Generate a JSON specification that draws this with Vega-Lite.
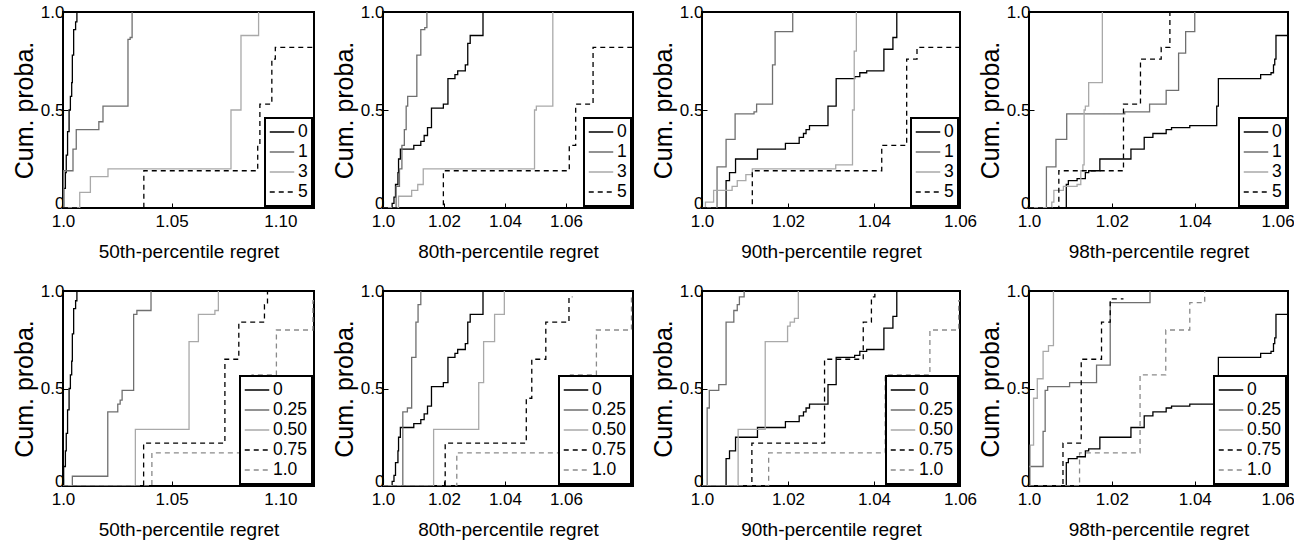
{
  "$schema": "https://vega.github.io/schema/vega-lite/v6.json",
  "background": "white",
  "padding": {"left": 11, "top": 2, "right": 2, "bottom": 2},
  "config": {
    "view": {"stroke": "#000", "strokeWidth": 2},
    "axis": {
      "grid": false, "domain": false, "ticks": true, "tickSize": -5, "tickColor": "#000", "tickWidth": 1,
      "labelFont": "Liberation Sans, Arial", "labelFontSize": 17, "labelColor": "#000",
      "labelFlush": false, "labelOverlap": false,
      "titleFontWeight": "normal", "titleColor": "#000", "titleFont": "Liberation Sans, Arial"
    },
    "axisX": {"labelPadding": 10, "titleFontSize": 19, "titlePadding": 13},
    "axisY": {"labelPadding": 4, "titleFontSize": 25, "titlePadding": 3, "labelBaseline": {"condition": {"test": "datum.value == 0", "value": "alphabetic"}, "value": "middle"}},
    "legend": {
      "orient": "bottom-right", "offset": 2, "fillColor": "white", "strokeColor": "#000", "strokeWidth": 2,
      "padding": 4, "title": null, "symbolType": "stroke", "symbolSize": 600, "symbolStrokeWidth": 1.5,
      "labelFont": "Liberation Sans, Arial", "labelFontSize": 17.5, "labelColor": "#000",
      "rowPadding": 0, "labelOffset": 3, "clipHeight": 20
    }
  },
  "datasets": {
    "cdf": [
      {"c":1,"r":"a","s":"0","x":1.0,"y":0},{"c":1,"r":"a","s":"0","x":1.0003,"y":0.1},{"c":1,"r":"a","s":"0","x":1.0011,"y":0.18},{"c":1,"r":"a","s":"0","x":1.0015,"y":0.27},{"c":1,"r":"a","s":"0","x":1.0021,"y":0.39},{"c":1,"r":"a","s":"0","x":1.0028,"y":0.5},{"c":1,"r":"a","s":"0","x":1.0034,"y":0.57},{"c":1,"r":"a","s":"0","x":1.004,"y":0.64},{"c":1,"r":"a","s":"0","x":1.0043,"y":0.78},{"c":1,"r":"a","s":"0","x":1.0049,"y":0.91},{"c":1,"r":"a","s":"0","x":1.0058,"y":0.95},{"c":1,"r":"a","s":"0","x":1.0064,"y":1},
      {"c":1,"r":"t","s":"1","x":1.0,"y":0},{"c":1,"r":"t","s":"1","x":1.0003,"y":0.19},{"c":1,"r":"t","s":"1","x":1.0046,"y":0.3},{"c":1,"r":"t","s":"1","x":1.0061,"y":0.4},{"c":1,"r":"t","s":"1","x":1.0165,"y":0.44},{"c":1,"r":"t","s":"1","x":1.0184,"y":0.52},{"c":1,"r":"t","s":"1","x":1.0299,"y":0.86},{"c":1,"r":"t","s":"1","x":1.0309,"y":0.87},{"c":1,"r":"t","s":"1","x":1.0318,"y":1},
      {"c":1,"r":"t","s":"3","x":1.0,"y":0},{"c":1,"r":"t","s":"3","x":1.0077,"y":0.08},{"c":1,"r":"t","s":"3","x":1.0126,"y":0.16},{"c":1,"r":"t","s":"3","x":1.0207,"y":0.2},{"c":1,"r":"t","s":"3","x":1.0773,"y":0.5},{"c":1,"r":"t","s":"3","x":1.0819,"y":0.88},{"c":1,"r":"t","s":"3","x":1.09,"y":1},
      {"c":1,"r":"t","s":"5","x":1.0,"y":0},{"c":1,"r":"t","s":"5","x":1.0372,"y":0.19},{"c":1,"r":"t","s":"5","x":1.0896,"y":0.32},{"c":1,"r":"t","s":"5","x":1.0906,"y":0.53},{"c":1,"r":"t","s":"5","x":1.0961,"y":0.76},{"c":1,"r":"t","s":"5","x":1.0977,"y":0.82},{"c":1,"r":"t","s":"5","x":1.1155,"y":0.82},
      {"c":1,"r":"b","s":"0.25","x":1.0,"y":0},{"c":1,"r":"b","s":"0.25","x":1.0043,"y":0.05},{"c":1,"r":"b","s":"0.25","x":1.0206,"y":0.38},{"c":1,"r":"b","s":"0.25","x":1.0252,"y":0.42},{"c":1,"r":"b","s":"0.25","x":1.0263,"y":0.44},{"c":1,"r":"b","s":"0.25","x":1.0272,"y":0.49},{"c":1,"r":"b","s":"0.25","x":1.0325,"y":0.88},{"c":1,"r":"b","s":"0.25","x":1.034,"y":0.9},{"c":1,"r":"b","s":"0.25","x":1.0405,"y":1},
      {"c":1,"r":"b","s":"0.50","x":1.0,"y":0},{"c":1,"r":"b","s":"0.50","x":1.0333,"y":0.29},{"c":1,"r":"b","s":"0.50","x":1.058,"y":0.74},{"c":1,"r":"b","s":"0.50","x":1.0623,"y":0.88},{"c":1,"r":"b","s":"0.50","x":1.0699,"y":0.9},{"c":1,"r":"b","s":"0.50","x":1.0715,"y":1},
      {"c":1,"r":"b","s":"0.75","x":1.0,"y":0},{"c":1,"r":"b","s":"0.75","x":1.0371,"y":0.22},{"c":1,"r":"b","s":"0.75","x":1.0745,"y":0.65},{"c":1,"r":"b","s":"0.75","x":1.0809,"y":0.84},{"c":1,"r":"b","s":"0.75","x":1.0927,"y":0.93},{"c":1,"r":"b","s":"0.75","x":1.0941,"y":1},
      {"c":1,"r":"b","s":"1.0","x":1.0,"y":0},{"c":1,"r":"b","s":"1.0","x":1.0409,"y":0.17},{"c":1,"r":"b","s":"1.0","x":1.087,"y":0.57},{"c":1,"r":"b","s":"1.0","x":1.0982,"y":0.8},{"c":1,"r":"b","s":"1.0","x":1.115,"y":0.95},{"c":1,"r":"b","s":"1.0","x":1.1155,"y":0.95},

      {"c":2,"r":"a","s":"0","x":1.0,"y":0},{"c":2,"r":"a","s":"0","x":1.003,"y":0.024},{"c":2,"r":"a","s":"0","x":1.0036,"y":0.055},{"c":2,"r":"a","s":"0","x":1.0041,"y":0.12},{"c":2,"r":"a","s":"0","x":1.0049,"y":0.18},{"c":2,"r":"a","s":"0","x":1.0051,"y":0.25},{"c":2,"r":"a","s":"0","x":1.0057,"y":0.3},{"c":2,"r":"a","s":"0","x":1.0101,"y":0.32},{"c":2,"r":"a","s":"0","x":1.0124,"y":0.34},{"c":2,"r":"a","s":"0","x":1.0135,"y":0.37},{"c":2,"r":"a","s":"0","x":1.0146,"y":0.41},{"c":2,"r":"a","s":"0","x":1.0159,"y":0.51},{"c":2,"r":"a","s":"0","x":1.0198,"y":0.53},{"c":2,"r":"a","s":"0","x":1.0213,"y":0.66},{"c":2,"r":"a","s":"0","x":1.0236,"y":0.68},{"c":2,"r":"a","s":"0","x":1.0245,"y":0.7},{"c":2,"r":"a","s":"0","x":1.027,"y":0.73},{"c":2,"r":"a","s":"0","x":1.0278,"y":0.84},{"c":2,"r":"a","s":"0","x":1.0286,"y":0.88},{"c":2,"r":"a","s":"0","x":1.0328,"y":1},
      {"c":2,"r":"t","s":"1","x":1.0,"y":0},{"c":2,"r":"t","s":"1","x":1.0043,"y":0.11},{"c":2,"r":"t","s":"1","x":1.0054,"y":0.2},{"c":2,"r":"t","s":"1","x":1.0062,"y":0.32},{"c":2,"r":"t","s":"1","x":1.007,"y":0.4},{"c":2,"r":"t","s":"1","x":1.0076,"y":0.52},{"c":2,"r":"t","s":"1","x":1.0081,"y":0.57},{"c":2,"r":"t","s":"1","x":1.0111,"y":0.78},{"c":2,"r":"t","s":"1","x":1.0124,"y":0.91},{"c":2,"r":"t","s":"1","x":1.0137,"y":0.92},{"c":2,"r":"t","s":"1","x":1.0144,"y":1},
      {"c":2,"r":"t","s":"3","x":1.0,"y":0},{"c":2,"r":"t","s":"3","x":1.0051,"y":0.06},{"c":2,"r":"t","s":"3","x":1.0094,"y":0.09},{"c":2,"r":"t","s":"3","x":1.0114,"y":0.12},{"c":2,"r":"t","s":"3","x":1.0132,"y":0.2},{"c":2,"r":"t","s":"3","x":1.0497,"y":0.5},{"c":2,"r":"t","s":"3","x":1.0503,"y":0.52},{"c":2,"r":"t","s":"3","x":1.0557,"y":1},
      {"c":2,"r":"t","s":"5","x":1.0,"y":0},{"c":2,"r":"t","s":"5","x":1.0198,"y":0.19},{"c":2,"r":"t","s":"5","x":1.0611,"y":0.32},{"c":2,"r":"t","s":"5","x":1.0632,"y":0.53},{"c":2,"r":"t","s":"5","x":1.0689,"y":0.82},{"c":2,"r":"t","s":"5","x":1.082,"y":0.82},
      {"c":2,"r":"b","s":"0.25","x":1.0,"y":0},{"c":2,"r":"b","s":"0.25","x":1.0065,"y":0.38},{"c":2,"r":"b","s":"0.25","x":1.008,"y":0.4},{"c":2,"r":"b","s":"0.25","x":1.0094,"y":0.66},{"c":2,"r":"b","s":"0.25","x":1.0108,"y":0.84},{"c":2,"r":"b","s":"0.25","x":1.0115,"y":0.93},{"c":2,"r":"b","s":"0.25","x":1.0124,"y":1},
      {"c":2,"r":"b","s":"0.50","x":1.0,"y":0},{"c":2,"r":"b","s":"0.50","x":1.0166,"y":0.29},{"c":2,"r":"b","s":"0.50","x":1.0314,"y":0.53},{"c":2,"r":"b","s":"0.50","x":1.033,"y":0.74},{"c":2,"r":"b","s":"0.50","x":1.0366,"y":0.88},{"c":2,"r":"b","s":"0.50","x":1.0398,"y":1},
      {"c":2,"r":"b","s":"0.75","x":1.0,"y":0},{"c":2,"r":"b","s":"0.75","x":1.0204,"y":0.22},{"c":2,"r":"b","s":"0.75","x":1.047,"y":0.45},{"c":2,"r":"b","s":"0.75","x":1.0488,"y":0.65},{"c":2,"r":"b","s":"0.75","x":1.0534,"y":0.84},{"c":2,"r":"b","s":"0.75","x":1.061,"y":0.97},{"c":2,"r":"b","s":"0.75","x":1.0621,"y":0.97},
      {"c":2,"r":"b","s":"1.0","x":1.0,"y":0},{"c":2,"r":"b","s":"1.0","x":1.0242,"y":0.17},{"c":2,"r":"b","s":"1.0","x":1.0615,"y":0.57},{"c":2,"r":"b","s":"1.0","x":1.07,"y":0.8},{"c":2,"r":"b","s":"1.0","x":1.0815,"y":0.97},{"c":2,"r":"b","s":"1.0","x":1.082,"y":0.97},

      {"c":3,"r":"a","s":"0","x":1.0,"y":0},{"c":3,"r":"a","s":"0","x":1.0056,"y":0.14},{"c":3,"r":"a","s":"0","x":1.0064,"y":0.18},{"c":3,"r":"a","s":"0","x":1.0078,"y":0.25},{"c":3,"r":"a","s":"0","x":1.0129,"y":0.3},{"c":3,"r":"a","s":"0","x":1.0194,"y":0.33},{"c":3,"r":"a","s":"0","x":1.0226,"y":0.36},{"c":3,"r":"a","s":"0","x":1.0236,"y":0.38},{"c":3,"r":"a","s":"0","x":1.0242,"y":0.4},{"c":3,"r":"a","s":"0","x":1.025,"y":0.42},{"c":3,"r":"a","s":"0","x":1.0293,"y":0.52},{"c":3,"r":"a","s":"0","x":1.0312,"y":0.66},{"c":3,"r":"a","s":"0","x":1.0355,"y":0.67},{"c":3,"r":"a","s":"0","x":1.0367,"y":0.69},{"c":3,"r":"a","s":"0","x":1.0383,"y":0.7},{"c":3,"r":"a","s":"0","x":1.0423,"y":0.81},{"c":3,"r":"a","s":"0","x":1.0444,"y":0.87},{"c":3,"r":"a","s":"0","x":1.0453,"y":1},
      {"c":3,"r":"t","s":"1","x":1.0,"y":0},{"c":3,"r":"t","s":"1","x":1.0035,"y":0.21},{"c":3,"r":"t","s":"1","x":1.0056,"y":0.35},{"c":3,"r":"t","s":"1","x":1.0077,"y":0.48},{"c":3,"r":"t","s":"1","x":1.0121,"y":0.49},{"c":3,"r":"t","s":"1","x":1.0127,"y":0.53},{"c":3,"r":"t","s":"1","x":1.0164,"y":0.73},{"c":3,"r":"t","s":"1","x":1.017,"y":0.9},{"c":3,"r":"t","s":"1","x":1.0211,"y":1},
      {"c":3,"r":"t","s":"3","x":1.0,"y":0},{"c":3,"r":"t","s":"3","x":1.0008,"y":0.03},{"c":3,"r":"t","s":"3","x":1.0027,"y":0.09},{"c":3,"r":"t","s":"3","x":1.007,"y":0.11},{"c":3,"r":"t","s":"3","x":1.0082,"y":0.14},{"c":3,"r":"t","s":"3","x":1.0102,"y":0.17},{"c":3,"r":"t","s":"3","x":1.0117,"y":0.2},{"c":3,"r":"t","s":"3","x":1.0311,"y":0.22},{"c":3,"r":"t","s":"3","x":1.035,"y":0.5},{"c":3,"r":"t","s":"3","x":1.0354,"y":0.8},{"c":3,"r":"t","s":"3","x":1.0359,"y":1},
      {"c":3,"r":"t","s":"5","x":1.0,"y":0},{"c":3,"r":"t","s":"5","x":1.0117,"y":0.19},{"c":3,"r":"t","s":"5","x":1.0418,"y":0.32},{"c":3,"r":"t","s":"5","x":1.0476,"y":0.76},{"c":3,"r":"t","s":"5","x":1.05,"y":0.82},{"c":3,"r":"t","s":"5","x":1.06,"y":0.82},
      {"c":3,"r":"b","s":"0.25","x":1.0,"y":0},{"c":3,"r":"b","s":"0.25","x":1.0012,"y":0.4},{"c":3,"r":"b","s":"0.25","x":1.0017,"y":0.49},{"c":3,"r":"b","s":"0.25","x":1.0039,"y":0.52},{"c":3,"r":"b","s":"0.25","x":1.0056,"y":0.84},{"c":3,"r":"b","s":"0.25","x":1.0074,"y":0.9},{"c":3,"r":"b","s":"0.25","x":1.0082,"y":0.93},{"c":3,"r":"b","s":"0.25","x":1.0087,"y":0.97},{"c":3,"r":"b","s":"0.25","x":1.0098,"y":1},
      {"c":3,"r":"b","s":"0.50","x":1.0,"y":0},{"c":3,"r":"b","s":"0.50","x":1.0084,"y":0.29},{"c":3,"r":"b","s":"0.50","x":1.0147,"y":0.74},{"c":3,"r":"b","s":"0.50","x":1.0199,"y":0.82},{"c":3,"r":"b","s":"0.50","x":1.0205,"y":0.84},{"c":3,"r":"b","s":"0.50","x":1.0215,"y":0.86},{"c":3,"r":"b","s":"0.50","x":1.0224,"y":1},
      {"c":3,"r":"b","s":"0.75","x":1.0,"y":0},{"c":3,"r":"b","s":"0.75","x":1.0116,"y":0.22},{"c":3,"r":"b","s":"0.75","x":1.0285,"y":0.65},{"c":3,"r":"b","s":"0.75","x":1.0375,"y":0.84},{"c":3,"r":"b","s":"0.75","x":1.0394,"y":0.97},{"c":3,"r":"b","s":"0.75","x":1.0402,"y":1},
      {"c":3,"r":"b","s":"1.0","x":1.0,"y":0},{"c":3,"r":"b","s":"1.0","x":1.0155,"y":0.17},{"c":3,"r":"b","s":"1.0","x":1.0426,"y":0.57},{"c":3,"r":"b","s":"1.0","x":1.053,"y":0.8},{"c":3,"r":"b","s":"1.0","x":1.0597,"y":0.95},{"c":3,"r":"b","s":"1.0","x":1.06,"y":0.95},

      {"c":4,"r":"a","s":"0","x":1.0,"y":0},{"c":4,"r":"a","s":"0","x":1.009,"y":0.12},{"c":4,"r":"a","s":"0","x":1.0095,"y":0.14},{"c":4,"r":"a","s":"0","x":1.0116,"y":0.15},{"c":4,"r":"a","s":"0","x":1.0136,"y":0.18},{"c":4,"r":"a","s":"0","x":1.0144,"y":0.19},{"c":4,"r":"a","s":"0","x":1.0171,"y":0.25},{"c":4,"r":"a","s":"0","x":1.0246,"y":0.3},{"c":4,"r":"a","s":"0","x":1.0278,"y":0.36},{"c":4,"r":"a","s":"0","x":1.0299,"y":0.38},{"c":4,"r":"a","s":"0","x":1.0331,"y":0.4},{"c":4,"r":"a","s":"0","x":1.0344,"y":0.41},{"c":4,"r":"a","s":"0","x":1.0388,"y":0.42},{"c":4,"r":"a","s":"0","x":1.0453,"y":0.52},{"c":4,"r":"a","s":"0","x":1.0457,"y":0.66},{"c":4,"r":"a","s":"0","x":1.0559,"y":0.68},{"c":4,"r":"a","s":"0","x":1.0584,"y":0.69},{"c":4,"r":"a","s":"0","x":1.059,"y":0.73},{"c":4,"r":"a","s":"0","x":1.0593,"y":0.76},{"c":4,"r":"a","s":"0","x":1.0596,"y":0.88},{"c":4,"r":"a","s":"0","x":1.0625,"y":0.88},
      {"c":4,"r":"t","s":"1","x":1.0,"y":0},{"c":4,"r":"t","s":"1","x":1.0042,"y":0.21},{"c":4,"r":"t","s":"1","x":1.0065,"y":0.35},{"c":4,"r":"t","s":"1","x":1.0091,"y":0.48},{"c":4,"r":"t","s":"1","x":1.0231,"y":0.49},{"c":4,"r":"t","s":"1","x":1.0291,"y":0.53},{"c":4,"r":"t","s":"1","x":1.0331,"y":0.6},{"c":4,"r":"t","s":"1","x":1.0361,"y":0.79},{"c":4,"r":"t","s":"1","x":1.0378,"y":0.9},{"c":4,"r":"t","s":"1","x":1.04,"y":1},
      {"c":4,"r":"t","s":"3","x":1.0,"y":0},{"c":4,"r":"t","s":"3","x":1.0055,"y":0.03},{"c":4,"r":"t","s":"3","x":1.006,"y":0.09},{"c":4,"r":"t","s":"3","x":1.0083,"y":0.11},{"c":4,"r":"t","s":"3","x":1.0116,"y":0.12},{"c":4,"r":"t","s":"3","x":1.0125,"y":0.19},{"c":4,"r":"t","s":"3","x":1.013,"y":0.22},{"c":4,"r":"t","s":"3","x":1.0133,"y":0.5},{"c":4,"r":"t","s":"3","x":1.0136,"y":0.52},{"c":4,"r":"t","s":"3","x":1.0144,"y":0.64},{"c":4,"r":"t","s":"3","x":1.0177,"y":1},
      {"c":4,"r":"t","s":"5","x":1.0,"y":0},{"c":4,"r":"t","s":"5","x":1.0072,"y":0.19},{"c":4,"r":"t","s":"5","x":1.0228,"y":0.53},{"c":4,"r":"t","s":"5","x":1.0269,"y":0.76},{"c":4,"r":"t","s":"5","x":1.0319,"y":0.82},{"c":4,"r":"t","s":"5","x":1.034,"y":1},
      {"c":4,"r":"b","s":"0.25","x":1.0,"y":0.1},{"c":4,"r":"b","s":"0.25","x":1.0034,"y":0.28},{"c":4,"r":"b","s":"0.25","x":1.0039,"y":0.49},{"c":4,"r":"b","s":"0.25","x":1.0045,"y":0.51},{"c":4,"r":"b","s":"0.25","x":1.0098,"y":0.53},{"c":4,"r":"b","s":"0.25","x":1.0163,"y":0.62},{"c":4,"r":"b","s":"0.25","x":1.0196,"y":0.94},{"c":4,"r":"b","s":"0.25","x":1.0292,"y":1},
      {"c":4,"r":"b","s":"0.50","x":1.0,"y":0},{"c":4,"r":"b","s":"0.50","x":1.0003,"y":0.21},{"c":4,"r":"b","s":"0.50","x":1.0011,"y":0.45},{"c":4,"r":"b","s":"0.50","x":1.002,"y":0.55},{"c":4,"r":"b","s":"0.50","x":1.0034,"y":0.69},{"c":4,"r":"b","s":"0.50","x":1.0047,"y":0.72},{"c":4,"r":"b","s":"0.50","x":1.0059,"y":1},
      {"c":4,"r":"b","s":"0.75","x":1.0,"y":0},{"c":4,"r":"b","s":"0.75","x":1.0082,"y":0.22},{"c":4,"r":"b","s":"0.75","x":1.0126,"y":0.65},{"c":4,"r":"b","s":"0.75","x":1.0175,"y":0.84},{"c":4,"r":"b","s":"0.75","x":1.0196,"y":0.96},{"c":4,"r":"b","s":"0.75","x":1.0228,"y":0.96},
      {"c":4,"r":"b","s":"1.0","x":1.0,"y":0},{"c":4,"r":"b","s":"1.0","x":1.0122,"y":0.17},{"c":4,"r":"b","s":"1.0","x":1.0268,"y":0.57},{"c":4,"r":"b","s":"1.0","x":1.033,"y":0.8},{"c":4,"r":"b","s":"1.0","x":1.0388,"y":0.94},{"c":4,"r":"b","s":"1.0","x":1.0424,"y":1}
    ]
  },
  "bounds": "flush",
  "columns": 4,
  "spacing": {"row": 83, "column": 69},
  "resolve": {"scale": {"x": "independent", "y": "independent", "color": "independent", "strokeDash": "independent"}, "axis": {"x": "independent", "y": "independent"}, "legend": {"color": "independent", "strokeDash": "independent"}},
  "concat": [
    {
      "width": 251, "height": 196, "data": {"name": "cdf"},
      "transform": [{"filter": "datum.c == 1 && datum.r != 'b'"}],
      "mark": {"type": "line", "interpolate": "step-after", "clip": true, "strokeWidth": 1.3},
      "encoding": {
        "x": {"field": "x", "type": "quantitative", "scale": {"domain": [1, 1.1155], "nice": false, "zero": false}, "axis": {"values": [1, 1.05, 1.1], "labelExpr": "datum.value == 1 ? '1.0' : format(datum.value, '.2f')", "title": "50th-percentile regret"}},
        "y": {"field": "y", "type": "quantitative", "scale": {"domain": [0, 1], "nice": false}, "axis": {"values": [0, 0.5, 1], "labelExpr": "datum.value == 0 ? '0' : format(datum.value, '.1f')", "title": "Cum. proba."}},
        "color": {"field": "s", "type": "nominal", "scale": {"domain": ["0", "1", "3", "5"], "range": ["#000000", "#6f6f6f", "#a9a9a9", "#000000"]}, "legend": {"title": null}},
        "strokeDash": {"field": "s", "type": "nominal", "scale": {"domain": ["0", "1", "3", "5"], "range": [[1, 0], [1, 0], [1, 0], [5, 4]]}, "legend": {"title": null}}
      }
    },
    {
      "width": 250, "height": 196, "data": {"name": "cdf"},
      "transform": [{"filter": "datum.c == 2 && datum.r != 'b'"}],
      "mark": {"type": "line", "interpolate": "step-after", "clip": true, "strokeWidth": 1.3},
      "encoding": {
        "x": {"field": "x", "type": "quantitative", "scale": {"domain": [1, 1.082], "nice": false, "zero": false}, "axis": {"values": [1, 1.02, 1.04, 1.06], "labelExpr": "datum.value == 1 ? '1.0' : format(datum.value, '.2f')", "title": "80th-percentile regret"}},
        "y": {"field": "y", "type": "quantitative", "scale": {"domain": [0, 1], "nice": false}, "axis": {"values": [0, 0.5, 1], "labelExpr": "datum.value == 0 ? '0' : format(datum.value, '.1f')", "title": "Cum. proba."}},
        "color": {"field": "s", "type": "nominal", "scale": {"domain": ["0", "1", "3", "5"], "range": ["#000000", "#6f6f6f", "#a9a9a9", "#000000"]}, "legend": {"title": null}},
        "strokeDash": {"field": "s", "type": "nominal", "scale": {"domain": ["0", "1", "3", "5"], "range": [[1, 0], [1, 0], [1, 0], [5, 4]]}, "legend": {"title": null}}
      }
    },
    {
      "width": 258, "height": 196, "data": {"name": "cdf"},
      "transform": [{"filter": "datum.c == 3 && datum.r != 'b'"}],
      "mark": {"type": "line", "interpolate": "step-after", "clip": true, "strokeWidth": 1.3},
      "encoding": {
        "x": {"field": "x", "type": "quantitative", "scale": {"domain": [1, 1.06], "nice": false, "zero": false}, "axis": {"values": [1, 1.02, 1.04, 1.06], "labelExpr": "datum.value == 1 ? '1.0' : format(datum.value, '.2f')", "title": "90th-percentile regret"}},
        "y": {"field": "y", "type": "quantitative", "scale": {"domain": [0, 1], "nice": false}, "axis": {"values": [0, 0.5, 1], "labelExpr": "datum.value == 0 ? '0' : format(datum.value, '.1f')", "title": "Cum. proba."}},
        "color": {"field": "s", "type": "nominal", "scale": {"domain": ["0", "1", "3", "5"], "range": ["#000000", "#6f6f6f", "#a9a9a9", "#000000"]}, "legend": {"title": null}},
        "strokeDash": {"field": "s", "type": "nominal", "scale": {"domain": ["0", "1", "3", "5"], "range": [[1, 0], [1, 0], [1, 0], [5, 4]]}, "legend": {"title": null}}
      }
    },
    {
      "width": 259, "height": 196, "data": {"name": "cdf"},
      "transform": [{"filter": "datum.c == 4 && datum.r != 'b'"}],
      "mark": {"type": "line", "interpolate": "step-after", "clip": true, "strokeWidth": 1.3},
      "encoding": {
        "x": {"field": "x", "type": "quantitative", "scale": {"domain": [1, 1.0625], "nice": false, "zero": false}, "axis": {"values": [1, 1.02, 1.04, 1.06], "labelExpr": "datum.value == 1 ? '1.0' : format(datum.value, '.2f')", "title": "98th-percentile regret"}},
        "y": {"field": "y", "type": "quantitative", "scale": {"domain": [0, 1], "nice": false}, "axis": {"values": [0, 0.5, 1], "labelExpr": "datum.value == 0 ? '0' : format(datum.value, '.1f')", "title": "Cum. proba."}},
        "color": {"field": "s", "type": "nominal", "scale": {"domain": ["0", "1", "3", "5"], "range": ["#000000", "#6f6f6f", "#a9a9a9", "#000000"]}, "legend": {"title": null}},
        "strokeDash": {"field": "s", "type": "nominal", "scale": {"domain": ["0", "1", "3", "5"], "range": [[1, 0], [1, 0], [1, 0], [5, 4]]}, "legend": {"title": null}}
      }
    },
    {
      "width": 251, "height": 195, "data": {"name": "cdf"},
      "transform": [{"filter": "datum.c == 1 && datum.r != 't'"}],
      "mark": {"type": "line", "interpolate": "step-after", "clip": true, "strokeWidth": 1.3},
      "encoding": {
        "x": {"field": "x", "type": "quantitative", "scale": {"domain": [1, 1.1155], "nice": false, "zero": false}, "axis": {"values": [1, 1.05, 1.1], "labelExpr": "datum.value == 1 ? '1.0' : format(datum.value, '.2f')", "title": "50th-percentile regret"}},
        "y": {"field": "y", "type": "quantitative", "scale": {"domain": [0, 1], "nice": false}, "axis": {"values": [0, 0.5, 1], "labelExpr": "datum.value == 0 ? '0' : format(datum.value, '.1f')", "title": "Cum. proba."}},
        "color": {"field": "s", "type": "nominal", "scale": {"domain": ["0", "0.25", "0.50", "0.75", "1.0"], "range": ["#000000", "#6f6f6f", "#a9a9a9", "#000000", "#8a8a8a"]}, "legend": {"title": null}},
        "strokeDash": {"field": "s", "type": "nominal", "scale": {"domain": ["0", "0.25", "0.50", "0.75", "1.0"], "range": [[1, 0], [1, 0], [1, 0], [5, 4], [5, 4]]}, "legend": {"title": null}}
      }
    },
    {
      "width": 250, "height": 195, "data": {"name": "cdf"},
      "transform": [{"filter": "datum.c == 2 && datum.r != 't'"}],
      "mark": {"type": "line", "interpolate": "step-after", "clip": true, "strokeWidth": 1.3},
      "encoding": {
        "x": {"field": "x", "type": "quantitative", "scale": {"domain": [1, 1.082], "nice": false, "zero": false}, "axis": {"values": [1, 1.02, 1.04, 1.06], "labelExpr": "datum.value == 1 ? '1.0' : format(datum.value, '.2f')", "title": "80th-percentile regret"}},
        "y": {"field": "y", "type": "quantitative", "scale": {"domain": [0, 1], "nice": false}, "axis": {"values": [0, 0.5, 1], "labelExpr": "datum.value == 0 ? '0' : format(datum.value, '.1f')", "title": "Cum. proba."}},
        "color": {"field": "s", "type": "nominal", "scale": {"domain": ["0", "0.25", "0.50", "0.75", "1.0"], "range": ["#000000", "#6f6f6f", "#a9a9a9", "#000000", "#8a8a8a"]}, "legend": {"title": null}},
        "strokeDash": {"field": "s", "type": "nominal", "scale": {"domain": ["0", "0.25", "0.50", "0.75", "1.0"], "range": [[1, 0], [1, 0], [1, 0], [5, 4], [5, 4]]}, "legend": {"title": null}}
      }
    },
    {
      "width": 258, "height": 195, "data": {"name": "cdf"},
      "transform": [{"filter": "datum.c == 3 && datum.r != 't'"}],
      "mark": {"type": "line", "interpolate": "step-after", "clip": true, "strokeWidth": 1.3},
      "encoding": {
        "x": {"field": "x", "type": "quantitative", "scale": {"domain": [1, 1.06], "nice": false, "zero": false}, "axis": {"values": [1, 1.02, 1.04, 1.06], "labelExpr": "datum.value == 1 ? '1.0' : format(datum.value, '.2f')", "title": "90th-percentile regret"}},
        "y": {"field": "y", "type": "quantitative", "scale": {"domain": [0, 1], "nice": false}, "axis": {"values": [0, 0.5, 1], "labelExpr": "datum.value == 0 ? '0' : format(datum.value, '.1f')", "title": "Cum. proba."}},
        "color": {"field": "s", "type": "nominal", "scale": {"domain": ["0", "0.25", "0.50", "0.75", "1.0"], "range": ["#000000", "#6f6f6f", "#a9a9a9", "#000000", "#8a8a8a"]}, "legend": {"title": null}},
        "strokeDash": {"field": "s", "type": "nominal", "scale": {"domain": ["0", "0.25", "0.50", "0.75", "1.0"], "range": [[1, 0], [1, 0], [1, 0], [5, 4], [5, 4]]}, "legend": {"title": null}}
      }
    },
    {
      "width": 259, "height": 195, "data": {"name": "cdf"},
      "transform": [{"filter": "datum.c == 4 && datum.r != 't'"}],
      "mark": {"type": "line", "interpolate": "step-after", "clip": true, "strokeWidth": 1.3},
      "encoding": {
        "x": {"field": "x", "type": "quantitative", "scale": {"domain": [1, 1.0625], "nice": false, "zero": false}, "axis": {"values": [1, 1.02, 1.04, 1.06], "labelExpr": "datum.value == 1 ? '1.0' : format(datum.value, '.2f')", "title": "98th-percentile regret"}},
        "y": {"field": "y", "type": "quantitative", "scale": {"domain": [0, 1], "nice": false}, "axis": {"values": [0, 0.5, 1], "labelExpr": "datum.value == 0 ? '0' : format(datum.value, '.1f')", "title": "Cum. proba."}},
        "color": {"field": "s", "type": "nominal", "scale": {"domain": ["0", "0.25", "0.50", "0.75", "1.0"], "range": ["#000000", "#6f6f6f", "#a9a9a9", "#000000", "#8a8a8a"]}, "legend": {"title": null}},
        "strokeDash": {"field": "s", "type": "nominal", "scale": {"domain": ["0", "0.25", "0.50", "0.75", "1.0"], "range": [[1, 0], [1, 0], [1, 0], [5, 4], [5, 4]]}, "legend": {"title": null}}
      }
    }
  ]
}
